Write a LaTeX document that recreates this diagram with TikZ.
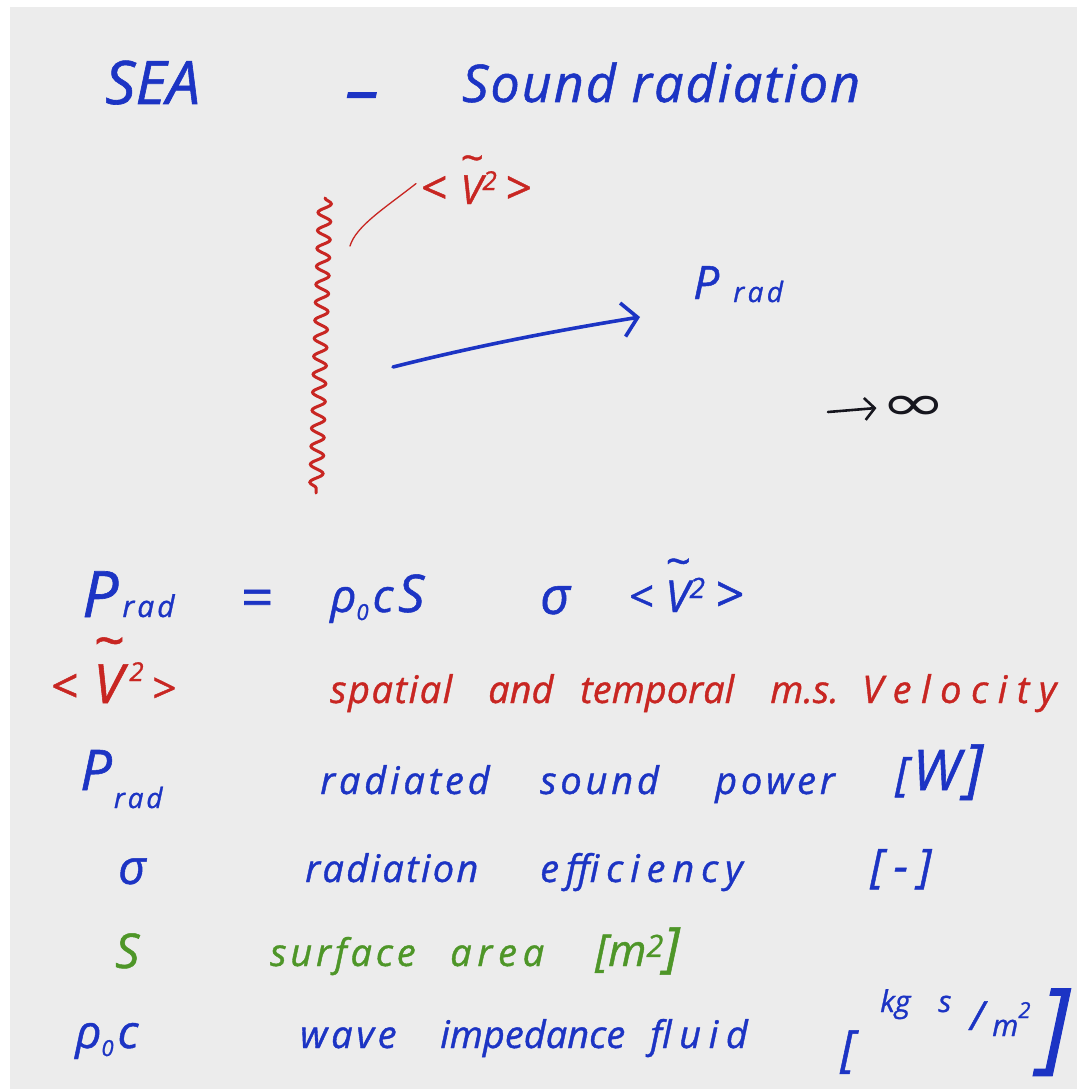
\documentclass[tikz,border=0pt]{standalone}
\usepackage{fontspec}
\usetikzlibrary{decorations.pathmorphing,arrows.meta}
\newfontfamily\hand{Open Sans}[ItalicFeatures={FakeBold=1}]
\newfontfamily\dejavu{DejaVu Sans}
\newcommand\hsz[1]{\fontsize{#1}{#1}\selectfont}
\newcommand\lsp[1]{\addfontfeatures{LetterSpace=#1}}
\newcommand\tV{\ooalign{V\cr\hidewidth\raisebox{0.8em}{\textasciitilde}\hidewidth\cr}}
\definecolor{paper}{RGB}{236,236,236}
\definecolor{hblue}{RGB}{28,52,196}
\definecolor{hred}{RGB}{200,38,34}
\definecolor{hgreen}{RGB}{78,150,40}
\definecolor{hblack}{RGB}{22,22,30}
\begin{document}
\begin{tikzpicture}[x=1pt,y=-1pt,
  hw/.style={inner sep=0pt,anchor=base west},
  bl/.style={hw,text=hblue},
  rd/.style={hw,text=hred},
  gr/.style={hw,text=hgreen},
  bk/.style={hw,text=hblack}]
\useasboundingbox (0,0) rectangle (1077,1089);
\fill[white] (0,0) rectangle (1077,1089);
\fill[paper] (10,7) rectangle (1077,1089);

% title
\node[bl,font=\hand\itshape\hsz{60}] (sea) at (105,104) {SEA};
\node[bl,font=\hand\itshape\hsz{70}] (dash) at (345,114) {–};
\node[bl,font=\hand\itshape\hsz{52}\lsp{4}] (title) at (462,102) {Sound radiation};

% sketch
\coordinate (wtop) at (325,198);
\coordinate (wbot) at (316,493);
\draw[hred,line width=3pt,line cap=round,decorate,decoration={snake,segment length=18pt,amplitude=6.5pt}] (wtop) -- (wbot);
\node[rd,font=\hand\itshape\hsz{40}] (vtop) at (420,204) {{\hsz{46}<}\hspace{14pt}\tV\raisebox{14pt}{\hsz{26}2}\hspace{8pt}{\hsz{46}>}};
\coordinate (lead) at (350,246);
\draw[hred,line width=1.3pt,line cap=round] (lead) .. controls (356,226) and (385,208) .. ([xshift=-4pt,yshift=4pt]vtop.west);
\coordinate (ast) at (393,367);
\coordinate (atip) at (640,317);
\draw[hblue,line width=3.6pt,line cap=round,-{Straight Barb[length=15pt,width=34pt,line width=3.6pt]}] (ast) .. controls (480,345) and (560,330) .. (atip);
\node[bl,font=\hand\itshape\hsz{46}] (prad) at (693,299) {P\hspace{14pt}\raisebox{-3pt}{\hsz{28}\lsp{12}rad}};
\node[bk,font=\dejavu\hsz{50},anchor=center] (inf) at (914,408) {\scalebox{1.6}[1]{∞}};
\coordinate (ainf) at (828,412);
\draw[hblack,line width=2.6pt,line cap=round,-{Straight Barb[length=10pt,width=22pt,line width=2.6pt]}] (ainf) -- ([xshift=-4pt]inf.west);

% equation
\node[bl,font=\hand\itshape\hsz{64}] (peq) at (82,617) {P\hspace{4pt}{\hsz{30}\lsp{10}rad}};
\node[bl,font=\hand\itshape\hsz{56}] (eq) at (240,617) {=};
\node[bl,font=\hand\itshape\hsz{46}] (rho) at (330,612) {ρ\raisebox{-8pt}{\hsz{22}0}\hspace{4pt}c};
\node[bl,font=\hand\itshape\hsz{52}] (seq) at (398,612) {S};
\node[bl,font=\hand\itshape\hsz{52}] (sig) at (540,614) {σ};
\node[bl,font=\hand\itshape\hsz{44}] (veq) at (628,612) {<\hspace{12pt}\tV\raisebox{14pt}{\hsz{28}2}\hspace{10pt}{\hsz{50}>}};

% legend: velocity
\node[rd,font=\hand\itshape] (vleg) at (50,703) {{\hsz{48}<}\hspace{16pt}{\hsz{54}\tV}\hspace{6pt}\raisebox{22pt}{\hsz{26}2}\hspace{8pt}{\hsz{42}>}};
\node[rd,font=\hand\itshape\hsz{38}\lsp{4}] (w1) at (330,703) {spatial};
\node[rd,font=\hand\itshape\hsz{38}] (w2) at (488,703) {and};
\node[rd,font=\hand\itshape\hsz{38}] (w3) at (580,703) {temporal};
\node[rd,font=\hand\itshape\hsz{38}] (w4) at (770,703) {m.s.};
\node[rd,font=\hand\itshape\hsz{38}\lsp{25}] (w5) at (862,703) {Velocity};

% legend: power
\node[bl,font=\hand\itshape\hsz{56}] (pleg) at (80,790) {P\hspace{2pt}\raisebox{-18pt}{\hsz{28}\lsp{10}rad}};
\node[bl,font=\hand\itshape\hsz{38}\lsp{10}] (p1) at (320,794) {radiated};
\node[bl,font=\hand\itshape\hsz{38}\lsp{10}] (p2) at (540,794) {sound};
\node[bl,font=\hand\itshape\hsz{38}\lsp{10}] (p3) at (715,794) {power};
\node[bl,font=\hand\itshape\hsz{46}] (p4) at (895,790) {[\hspace{4pt}{\hsz{56}W}\hspace{4pt}{\hsz{64}]}};

% legend: sigma
\node[bl,font=\hand\itshape\hsz{48}] (sleg) at (118,884) {σ};
\node[bl,font=\hand\itshape\hsz{38}\lsp{6}] (s1) at (305,882) {radiation};
\node[bl,font=\hand\itshape\hsz{38}\lsp{18}] (s2) at (540,882) {efficiency};
\node[bl,font=\hand\itshape\hsz{46}] (s3) at (870,882) {[\hspace{10pt}-\hspace{10pt}]};

% legend: surface
\node[gr,font=\hand\itshape\hsz{48}] (aleg) at (115,968) {S};
\node[gr,font=\hand\itshape\hsz{38}\lsp{10}] (a1) at (270,966) {surface};
\node[gr,font=\hand\itshape\hsz{38}\lsp{15}] (a2) at (450,966) {area};
\node[gr,font=\hand\itshape\hsz{44}] (a3) at (595,966) {[m\textsuperscript{2}{\hsz{54}]}};

% legend: impedance
\node[bl,font=\hand\itshape\hsz{46}] (zleg) at (75,1048) {ρ\raisebox{-8pt}{\hsz{22}0}\hspace{4pt}c};
\node[bl,font=\hand\itshape\hsz{38}\lsp{10}] (z1) at (300,1048) {wave};
\node[bl,font=\hand\itshape\hsz{38}] (z2) at (440,1048) {impedance};
\node[bl,font=\hand\itshape\hsz{38}\lsp{20}] (z3) at (650,1048) {fluid};
\node[bl,font=\hand\itshape\hsz{50}] (zl) at (840,1066) {[};
\node[bl,font=\hand\itshape\hsz{30}] (zkg) at (880,1012) {kg\hspace{28pt}s};
\node[bl,font=\hand\itshape\hsz{40}] (zsl) at (970,1030) {/};
\node[bl,font=\hand\itshape\hsz{30}] (zm) at (992,1036) {m\raisebox{18pt}{\hsz{22}2}};
\node[bl,font=\hand\itshape\hsz{100}] (zr) at (1040,1060) {]};
\end{tikzpicture}
\end{document}
